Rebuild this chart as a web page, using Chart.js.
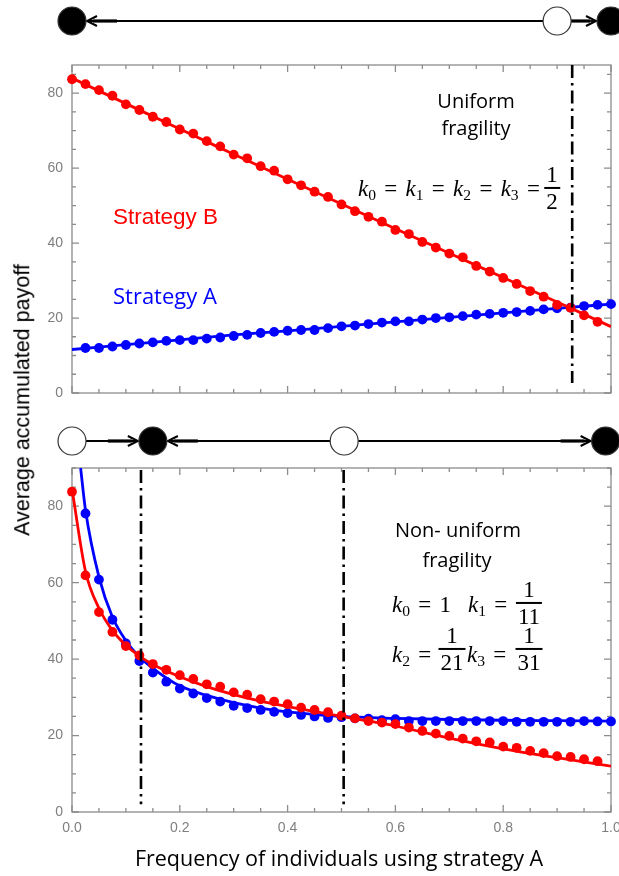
<!DOCTYPE html>
<html>
<head>
<meta charset="utf-8">
<script src="https://cdn.jsdelivr.net/npm/chart.js@4.4.1/dist/chart.umd.min.js"></script>
<style>
  html,body{margin:0;padding:0;background:#fff;}
  #wrap{position:relative;width:619px;height:876px;overflow:hidden;}
  #wrap canvas{position:absolute;left:0;}
  .t{position:absolute;white-space:nowrap;line-height:1;}
  .cal{font-family:'Open Sans',sans-serif;}
  .mid{transform:translate(-50%,-50%);}
  .lmid{transform:translateY(-50%);}
  .m{font-family:'Liberation Serif',serif;font-size:23px;}
  .m i{font-style:italic;}
  .m sub{font-size:0.68em;vertical-align:-0.28em;line-height:0;}
  .eq{margin:0 0.36em;}
  .frac{position:absolute;transform:translate(-50%,-50%);display:flex;flex-direction:column;align-items:center;font-family:'Liberation Serif',serif;font-size:23px;line-height:1.02;}
  .frac b{font-weight:normal;display:block;padding:0 2px;}
  .frac .bar{align-self:stretch;height:1.2px;background:#000;margin:1px 0;}
</style>
</head>
<body>
<div id="wrap">
  <canvas id="chart-top" width="619" height="410" style="top:0"></canvas>
  <canvas id="chart-bottom" width="619" height="476" style="top:400px"></canvas>

  <div class="t" style="left:23px;top:400px;transform:translate(-50%,-50%) rotate(-90deg);font-family:'Liberation Sans',sans-serif;font-size:21.5px">Average accumulated payoff</div>
  <div class="t cal mid" style="left:339px;top:858px;font-size:21.5px">Frequency of individuals using strategy A</div>

  <!-- top panel notes -->
  <div class="t cal mid" style="left:476px;top:101px;font-size:20px">Uniform</div>
  <div class="t cal mid" style="left:476px;top:128px;font-size:20px">fragility</div>
  <div class="t m lmid" style="left:358px;top:188px"><i>k</i><sub>0</sub><span class="eq">=</span><i>k</i><sub>1</sub><span class="eq">=</span><i>k</i><sub>2</sub><span class="eq">=</span><i>k</i><sub>3</sub><span class="eq">=</span></div>
  <div class="frac" style="left:552px;top:188px"><b>1</b><span class="bar"></span><b>2</b></div>
  <div class="t lmid" style="left:113px;top:217px;color:#f00;font-family:'Liberation Sans',sans-serif;font-size:22.5px">Strategy B</div>
  <div class="t cal lmid" style="left:113px;top:295px;color:#00f;font-size:22px">Strategy A</div>

  <!-- bottom panel notes -->
  <div class="t cal mid" style="left:458px;top:530px;font-size:20px">Non- uniform</div>
  <div class="t cal mid" style="left:457px;top:560px;font-size:20px">fragility</div>
  <div class="t m lmid" style="left:392px;top:604px"><i>k</i><sub>0</sub><span class="eq">=</span>1</div>
  <div class="t m lmid" style="left:468px;top:604px"><i>k</i><sub>1</sub><span class="eq">=</span></div>
  <div class="frac" style="left:529px;top:603px"><b>1</b><span class="bar"></span><b>11</b></div>
  <div class="t m lmid" style="left:392px;top:654px"><i>k</i><sub>2</sub><span class="eq">=</span></div>
  <div class="frac" style="left:452px;top:649px"><b>1</b><span class="bar"></span><b>21</b></div>
  <div class="t m lmid" style="left:467px;top:654px"><i>k</i><sub>3</sub><span class="eq">=</span></div>
  <div class="frac" style="left:529px;top:649px"><b>1</b><span class="bar"></span><b>31</b></div>
</div>

<script>
// ── data ──
const freq = [0, 0.025, 0.05, 0.075, 0.1, 0.125, 0.15, 0.175, 0.2, 0.225, 0.25, 0.275, 0.3, 0.325, 0.35, 0.375,
  0.4, 0.425, 0.45, 0.475, 0.5, 0.525, 0.55, 0.575, 0.6, 0.625, 0.65, 0.675, 0.7, 0.725, 0.75, 0.775,
  0.8, 0.825, 0.85, 0.875, 0.9, 0.925, 0.95, 0.975, 1];

// uniform fragility (simulation dots)
const topStrategyB = [83.7, 82.4, 80.8, 79.3, 77.0, 75.5, 73.7, 72.3, 70.3, 69.2, 67.2, 65.8, 63.6, 62.6, 60.5, 59.3,
  57.0, 55.4, 53.7, 52.3, 50.3, 48.5, 47.0, 45.7, 43.5, 42.4, 40.3, 38.8, 37.2, 36.2, 33.9, 32.4,
  30.7, 29.1, 27.2, 25.7, 23.5, 22.7, 20.7, 19.0, null];
const topStrategyA = [null, 12.0, 12.0, 12.4, 12.8, 13.2, 13.5, 13.9, 14.1, 14.1, 14.5, 14.8, 15.2, 15.5, 16.0, 16.3,
  16.6, 16.8, 16.8, 17.3, 17.8, 18.0, 18.4, 18.8, 19.1, 19.1, 19.6, 20.0, 20.2, 20.5, 20.9, 21.1,
  21.4, 21.6, 21.9, 22.3, 22.6, 22.8, 23.2, 23.5, 23.7];
// uniform fragility (analytic curves)
const topFitX = [0, 0.1, 0.2, 0.3, 0.4, 0.5, 0.6, 0.7, 0.8, 0.9, 1];
const topFitB = [84.0, 77.2, 70.4, 63.7, 57.0, 50.4, 43.8, 37.3, 30.8, 24.3, 17.7];
const topFitA = [11.6, 12.9, 14.2, 15.5, 16.6, 17.8, 19.0, 20.2, 21.4, 22.6, 23.7];
const topCrossX = [0.928, 0.928];
const topCrossY = [87.5, 2.7];

// non-uniform fragility (simulation dots)
const botStrategyB = [83.8, 61.9, 52.3, 47.1, 43.4, 41.0, 38.7, 37.2, 35.8, 34.8, 33.4, 32.8, 31.3, 30.7, 29.5, 28.9,
  28.2, 27.3, 26.7, 26.1, 25.2, 24.5, 23.8, 23.4, 23.0, 22.1, 21.2, 20.5, 19.9, 19.2, 18.5, 18.2,
  17.1, 16.8, 16.0, 15.4, 14.6, 14.4, 13.8, 13.3, null];
const botStrategyA = [null, 78.1, 60.8, 50.3, 44.1, 39.5, 36.5, 34.1, 32.3, 31.0, 29.8, 28.9, 27.8, 27.2, 26.7, 26.2,
  25.9, 25.4, 25.0, 24.6, 24.8, 24.5, 24.4, 24.0, 24.3, 23.8, 23.8, 23.8, 23.8, 23.8, 23.8, 23.8,
  23.8, 23.6, 23.6, 23.6, 23.6, 23.6, 23.8, 23.7, 23.7];
// non-uniform fragility (analytic curves)
const botFitBX = [0, 0.025, 0.05, 0.075, 0.1, 0.125, 0.15, 0.2, 0.25, 0.3, 0.35, 0.4, 0.5, 0.6, 0.7, 0.8, 0.9, 1];
const botFitB  = [84.5, 63.0, 53.3, 47.5, 43.6, 40.8, 38.6, 35.4, 32.8, 30.7, 29.0, 27.6, 25.0, 22.5, 19.3, 16.5, 14.2, 12.0];
const botFitAX = [0.016, 0.025, 0.05, 0.075, 0.1, 0.125, 0.15, 0.2, 0.25, 0.3, 0.35, 0.4, 0.5, 0.6, 0.7, 0.8, 0.9, 1];
const botFitA  = [90.0, 79.0, 61.5, 51.0, 44.8, 40.6, 37.6, 33.0, 30.5, 28.6, 27.2, 26.2, 25.0, 24.5, 24.2, 24.0, 23.9, 23.8];
const botCross1X = [0.128, 0.128];
const botCross2X = [0.504, 0.504];
const botCrossY = [89.5, 2.0];

// axes
const xTickValues = [0, 0.2, 0.4, 0.6, 0.8, 1];
const xTickLabels = ['0.0', '0.2', '0.4', '0.6', '0.8', '1.0'];
const yTickValues = [0, 20, 40, 60, 80];

// replicator phase lines (fixed points, stability, flow arrows)
const topFixed  = [0, 0.9, 1];
const topStable = [true, false, true];
const topFlows  = [[0.9, 0], [0.9, 1]];
const botFixed  = [0, 0.15, 0.505, 0.99];
const botStable = [false, true, false, true];
const botFlows  = [[0, 0.15], [0.505, 0.15], [0.505, 0.99]];

const RED = '#ff0000', BLUE = '#0000ff';
const pts = (xs, ys) => xs.map((x, i) => ({ x, y: ys[i] })).filter(p => p.y != null);
const dots = (data, c) => ({ data, backgroundColor: c, borderWidth: 0, pointRadius: 4.9, pointHoverRadius: 4.9, showLine: false, clip: false });
const fit = (data, c) => ({ data, borderColor: c, borderWidth: 2.8, pointRadius: 0, showLine: true, cubicInterpolationMode: 'monotone', fill: false });
const dashDot = data => ({ data, borderColor: '#000', borderWidth: 2.6, borderDash: [13, 5, 2.5, 5], pointRadius: 0, showLine: true });

// ── frame + inward ticks (Mathematica style) ──
const frameTicks = {
  id: 'frameTicks',
  beforeDatasetsDraw(chart) {
    const { ctx, chartArea: a, scales: { x, y } } = chart;
    ctx.save();
    ctx.strokeStyle = '#8c8c8c';
    ctx.lineWidth = 1.3;
    ctx.strokeRect(a.left, a.top, a.width, a.height);
    ctx.beginPath();
    for (let i = 0; i <= 20; i++) {
      const px = x.getPixelForValue(i * 0.05), len = i % 4 === 0 ? 7 : 4;
      ctx.moveTo(px, a.bottom); ctx.lineTo(px, a.bottom - len);
      ctx.moveTo(px, a.top);    ctx.lineTo(px, a.top + len);
    }
    for (let v = 0; v <= y.max; v += 5) {
      const py = y.getPixelForValue(v), len = v % 20 === 0 ? 7 : 4;
      ctx.moveTo(a.left, py);  ctx.lineTo(a.left + len, py);
      ctx.moveTo(a.right, py); ctx.lineTo(a.right - len, py);
    }
    ctx.stroke();
    ctx.restore();
  }
};

// ── phase line above each panel ──
const phaseSets = {
  top:    { y: 21, points: topFixed, stable: topStable, flows: topFlows },
  bottom: { y: 41, points: botFixed, stable: botStable, flows: botFlows }
};
const phaseLine = {
  id: 'phaseLine',
  afterDraw(chart, args, opts) {
    const set = phaseSets[opts.which];
    if (!set) return;
    const { ctx } = chart, x = chart.scales.x, r = 14, y = set.y;
    ctx.save();
    ctx.strokeStyle = '#000';
    set.flows.forEach(([from, to]) => {
      const xa = x.getPixelForValue(from), xb = x.getPixelForValue(to), dir = Math.sign(xb - xa);
      const x0 = xa + dir * r, x1 = xb - dir * (r + 1);
      ctx.lineWidth = 1.8;
      ctx.beginPath(); ctx.moveTo(x0, y); ctx.lineTo(x1, y); ctx.stroke();
      ctx.lineWidth = 3.2;
      ctx.beginPath(); ctx.moveTo(x1 - dir * 30, y); ctx.lineTo(x1 - dir * 6, y); ctx.stroke();
      ctx.lineWidth = 2;
      ctx.beginPath(); ctx.moveTo(x1 - dir * 10, y - 5); ctx.lineTo(x1, y); ctx.lineTo(x1 - dir * 10, y + 5); ctx.stroke();
    });
    set.points.forEach((v, i) => {
      ctx.beginPath();
      ctx.arc(x.getPixelForValue(v), y, r, 0, Math.PI * 2);
      ctx.fillStyle = set.stable[i] ? '#000' : '#fff';
      ctx.fill();
      ctx.lineWidth = 1.2;
      ctx.strokeStyle = '#333';
      ctx.stroke();
    });
    ctx.restore();
  }
};

const tickFont = { family: 'Liberation Sans', size: 14 };
function scales(yMax, xHeight, showX) {
  return {
    x: {
      type: 'linear', min: 0, max: 1,
      grid: { display: false, drawTicks: false }, border: { display: false },
      afterBuildTicks: s => { s.ticks = xTickValues.map(value => ({ value })); },
      // keep the plot edge fixed: no extra room for the half-cut "1.0" label
      afterFit: s => { s.height = xHeight; s.paddingLeft = 0; s.paddingRight = 0; },
      ticks: { display: showX, padding: 8, color: '#7f7f7f', font: tickFont, autoSkip: false, maxRotation: 0,
               callback: v => xTickLabels[xTickValues.indexOf(v)] ?? '' }
    },
    y: {
      type: 'linear', min: 0, max: yMax,
      grid: { display: false, drawTicks: false }, border: { display: false },
      afterBuildTicks: s => { s.ticks = yTickValues.map(value => ({ value })); },
      afterFit: s => { s.width = 72; s.paddingTop = 0; s.paddingBottom = 0; },
      ticks: { padding: 9, color: '#7f7f7f', font: tickFont, callback: v => String(v) }
    }
  };
}

function panel(id, datasets, yMax, padTop, xHeight, showX, which) {
  return new Chart(document.getElementById(id), {
    type: 'scatter',
    data: { datasets },
    options: {
      responsive: false, animation: false, devicePixelRatio: 1,
      layout: { padding: { left: 0, right: 8, top: padTop, bottom: 0 } },
      scales: scales(yMax, xHeight, showX),
      plugins: { legend: { display: false }, tooltip: { enabled: false }, phaseLine: { which } },
      events: []
    },
    plugins: [frameTicks, phaseLine]
  });
}

// first dataset is drawn on top
panel('chart-top', [
  dashDot(pts(topCrossX, topCrossY)),
  dots(pts(freq, topStrategyB), RED),
  fit(pts(topFitX, topFitB), RED),
  dots(pts(freq, topStrategyA), BLUE),
  fit(pts(topFitX, topFitA), BLUE)
], 87.5, 65, 17, false, 'top');

panel('chart-bottom', [
  dashDot(pts(botCross1X, botCrossY)),
  dashDot(pts(botCross2X, botCrossY)),
  dots(pts(freq, botStrategyB), RED),
  fit(pts(botFitBX, botFitB), RED),
  dots(pts(freq, botStrategyA), BLUE),
  fit(pts(botFitAX, botFitA), BLUE)
], 90, 68, 64, true, 'bottom');
</script>
</body>
</html>
